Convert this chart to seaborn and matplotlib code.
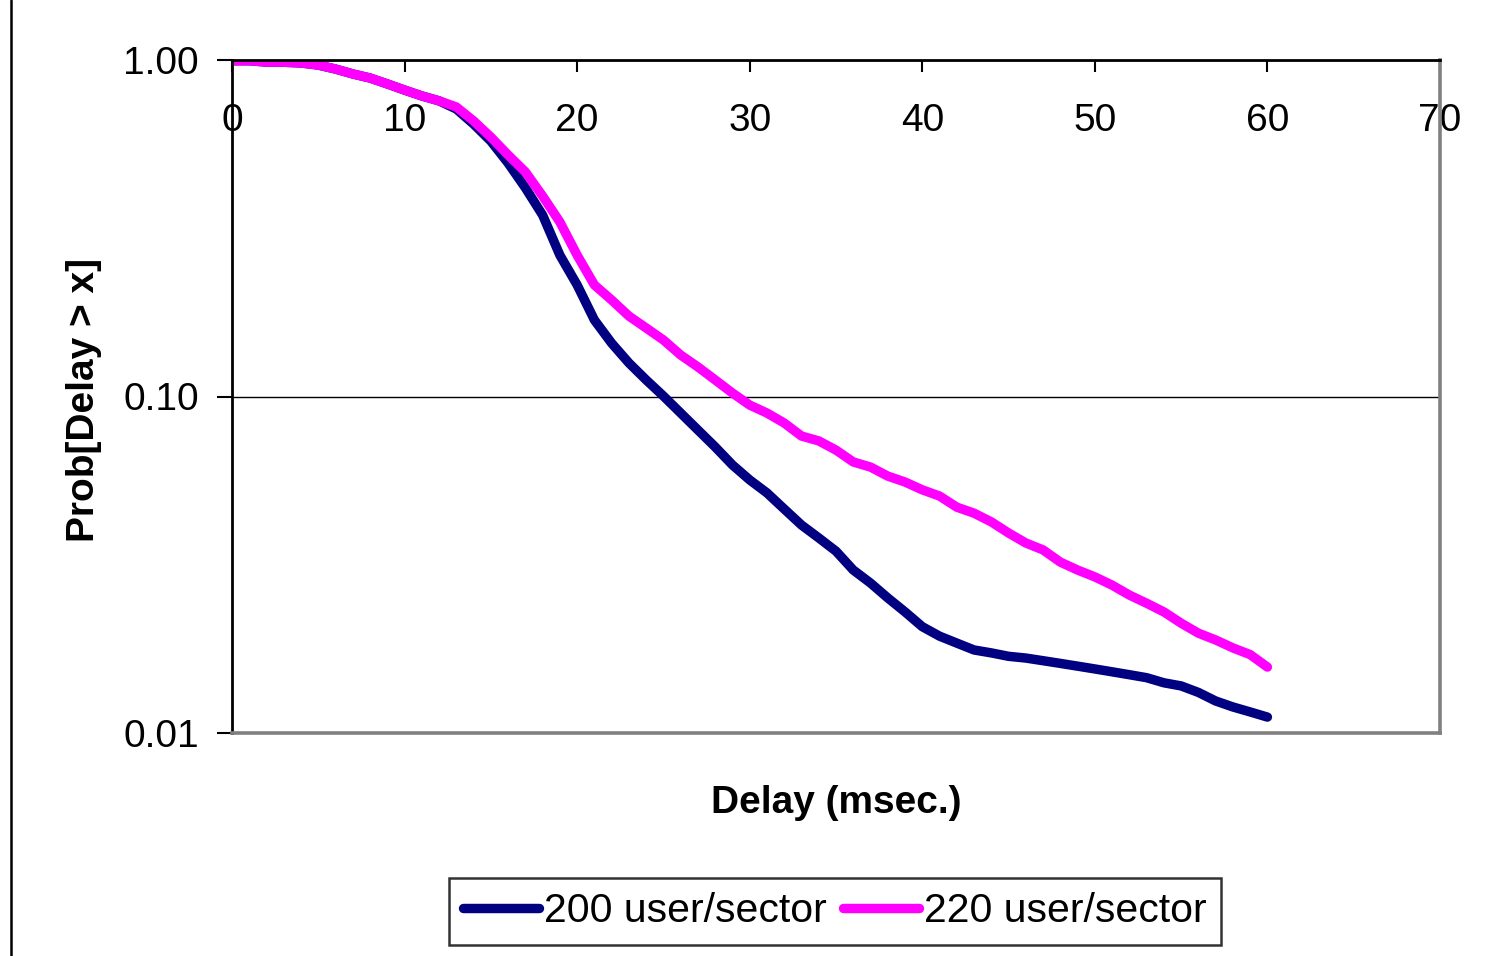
import matplotlib
matplotlib.use("Agg")
import matplotlib.pyplot as plt
from matplotlib.lines import Line2D
from matplotlib.ticker import FixedLocator, NullLocator, FuncFormatter
import numpy as np
import pandas as pd
import seaborn as sns

# Complementary CDF of packet delay for two sector loads
delay_ms = list(range(0, 61))

prob_200 = [
    0.995, 0.995, 0.986, 0.985, 0.980, 0.966, 0.940, 0.909, 0.884, 0.849,
    0.814, 0.782, 0.756, 0.715, 0.645, 0.574, 0.494, 0.417, 0.346, 0.263,
    0.2145, 0.1688, 0.144, 0.1258, 0.112, 0.1003, 0.0893, 0.0795, 0.0708, 0.0626,
    0.0565, 0.0517, 0.0463, 0.0415, 0.0380, 0.0347, 0.0305, 0.0279, 0.0252, 0.0229,
    0.0207, 0.0194, 0.0185, 0.01765, 0.0173, 0.0169, 0.0167, 0.0164, 0.0161, 0.0158,
    0.0155, 0.0152, 0.0149, 0.0146, 0.0141, 0.0138, 0.0132, 0.01245, 0.01195, 0.01155,
    0.01115,
]

prob_220 = [
    0.995, 0.995, 0.986, 0.985, 0.980, 0.966, 0.940, 0.909, 0.884, 0.849,
    0.814, 0.782, 0.756, 0.725, 0.659, 0.590, 0.522, 0.465, 0.394, 0.330,
    0.263, 0.2145, 0.1935, 0.1734, 0.1598, 0.1472, 0.1328, 0.1224, 0.112, 0.1024,
    0.0943, 0.0893, 0.0834, 0.0763, 0.0738, 0.0693, 0.0639, 0.0617, 0.0580, 0.0557,
    0.0528, 0.0506, 0.0469, 0.0450, 0.0424, 0.0393, 0.0367, 0.0350, 0.0322, 0.0305,
    0.0291, 0.0275, 0.0257, 0.0243, 0.0229, 0.0212, 0.0198, 0.0189, 0.0179, 0.0171,
    0.0157,
]

series_names = ["200 user/sector", "220 user/sector"]
series_colors = ["#000080", "#FF00FF"]

x_ticks = [0, 10, 20, 30, 40, 50, 60, 70]
y_ticks = [0.01, 0.10, 1.00]

df = pd.concat([
    pd.DataFrame({"delay": delay_ms, "prob": prob_200, "load": series_names[0]}),
    pd.DataFrame({"delay": delay_ms, "prob": prob_220, "load": series_names[1]}),
], ignore_index=True)

sns.set_theme(style="white")
plt.rcParams["font.family"] = ["Liberation Sans", "DejaVu Sans"]
plt.rcParams["text.color"] = "black"
plt.rcParams["axes.labelcolor"] = "black"
plt.rcParams["xtick.color"] = "black"
plt.rcParams["ytick.color"] = "black"

fig = plt.figure(figsize=(14.92, 9.56), dpi=100)
ax = fig.add_axes([232 / 1492, 1 - 733 / 956, (1440 - 232) / 1492, (733 - 60) / 956])

sns.lineplot(
    data=df, x="delay", y="prob", hue="load",
    palette=dict(zip(series_names, series_colors)),
    linewidth=6.8, estimator=None, sort=False, ax=ax,
)
for ln in ax.get_lines():
    ln.set_solid_capstyle("round")
    ln.set_solid_joinstyle("round")

ax.set_yscale("log")
ax.set_xlim(0, 70)
ax.set_ylim(0.01, 1.0)

# y axis: decades with two decimals, outward ticks
ax.yaxis.set_major_locator(FixedLocator(y_ticks))
ax.yaxis.set_minor_locator(NullLocator())
ax.yaxis.set_major_formatter(FuncFormatter(lambda v, _: f"{v:.2f}"))
ax.tick_params(axis="y", which="major", direction="out", length=10.8, width=1.5,
               color="black", labelcolor="black", labelsize=28, pad=13,
               left=True, labelleft=True)

# x axis runs along the top, labels sit just inside the plot
ax.xaxis.set_major_locator(FixedLocator(x_ticks))
ax.xaxis.set_minor_locator(NullLocator())
ax.tick_params(axis="x", which="major", direction="in", length=8.6, width=1.5,
               color="black", labelcolor="black", labelsize=28, top=True,
               labeltop=True, bottom=False, labelbottom=False, pad=-57)

ax.grid(False)
ax.yaxis.grid(True, which="major", color="black", linewidth=1.0)

for side in ("top", "left"):
    ax.spines[side].set_color("black")
    ax.spines[side].set_linewidth(2.0)
for side in ("right", "bottom"):
    ax.spines[side].set_color("#808080")
    ax.spines[side].set_linewidth(2.6)

ax.set_xlabel("Delay (msec.)", fontsize=28, fontweight="bold", color="black", va="center")
ax.xaxis.set_label_position("bottom")
ax.xaxis.set_label_coords(0.5, -(785 - 733) / 673)
ax.set_ylabel("Prob[Delay > x]", fontsize=28, fontweight="bold", color="black", va="center")
ax.yaxis.set_label_coords((84 - 232) / 1208, (733 - 400) / 673)

handles, labels = ax.get_legend_handles_labels()
ax.get_legend().remove()
for h in handles:
    h.set_linewidth(6.8)
    h.set_solid_capstyle("round")
leg = fig.legend(
    handles, labels, loc="center", bbox_to_anchor=(835 / 1492, 1 - 911.5 / 956),
    ncol=2, fontsize=29.5, frameon=True, fancybox=False, handlelength=1.85,
    handletextpad=0.12, columnspacing=0.4, borderpad=0.35, borderaxespad=0,
)
for t in leg.get_texts():
    t.set_color("black")
leg.get_frame().set_edgecolor("black")
leg.get_frame().set_linewidth(1.8)
leg.get_frame().set_facecolor("white")

# page frame edge on the left
fig.add_artist(Line2D([11 / 1492, 11 / 1492], [0, 1], color="black", linewidth=1.8,
                      transform=fig.transFigure))

fig.savefig("out.png", dpi=100, facecolor="white")
